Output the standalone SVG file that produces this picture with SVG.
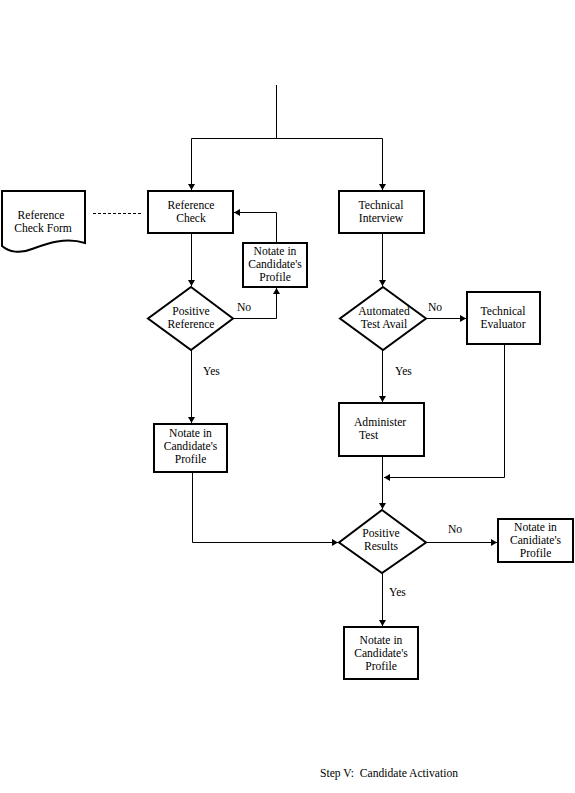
<svg xmlns="http://www.w3.org/2000/svg" width="575" height="793" viewBox="0 0 575 793">
<style>
.box{fill:#fff;stroke:#000;stroke-width:2}
.doc{fill:#fff;stroke:#000;stroke-width:2}
.c{fill:none;stroke:#000;stroke-width:1}
.d{fill:none;stroke:#000;stroke-width:1;stroke-dasharray:3,2}
text{font-family:"Liberation Serif","Times New Roman",serif;font-size:11.6px;fill:#000}
.m{text-anchor:middle}
</style>
<defs>
<marker id="ah" markerUnits="userSpaceOnUse" markerWidth="7" markerHeight="7" refX="6" refY="3.5" orient="auto">
<path d="M0,0 L6,3.5 L0,7 z" fill="#000"/>
</marker>
</defs>
<rect width="575" height="793" fill="#fff"/>
<g id="connectors">
<path class="c" d="M276.5,85 V138.5"/>
<path class="c" d="M191.5,138.5 H382.5"/>
<path class="c" d="M191.5,138.5 V190" marker-end="url(#ah)"/>
<path class="c" d="M382.5,138.5 V190" marker-end="url(#ah)"/>
<path class="d" d="M93,213.5 H142"/>
<path class="c" d="M191.5,233 V286" marker-end="url(#ah)"/>
<path class="c" d="M233,318.5 H276.5 V288" marker-end="url(#ah)"/>
<path class="c" d="M276.5,243 V212.5 H234" marker-end="url(#ah)"/>
<path class="c" d="M191.5,350 V423" marker-end="url(#ah)"/>
<path class="c" d="M192.5,472 V542.5 H338" marker-end="url(#ah)"/>
<path class="c" d="M382.5,233 V286" marker-end="url(#ah)"/>
<path class="c" d="M426,318.5 H466" marker-end="url(#ah)"/>
<path class="c" d="M382.5,350 V402" marker-end="url(#ah)"/>
<path class="c" d="M504.5,344 V477.5 H384" marker-end="url(#ah)"/>
<path class="c" d="M382.5,456 V509" marker-end="url(#ah)"/>
<path class="c" d="M426,542.5 H497" marker-end="url(#ah)"/>
<path class="c" d="M382.5,573 V626" marker-end="url(#ah)"/>
</g>
<g id="labels">
<text x="237" y="311">No</text>
<text x="428" y="311">No</text>
<text x="203" y="375">Yes</text>
<text x="395" y="375">Yes</text>
<text x="448" y="533">No</text>
<text x="389" y="596">Yes</text>
</g>
<g id="ref-check-form">
<path class="doc" d="M2,191 H85 V243 C66,237 48,243 32,249 C20,254 9,252 2,246 Z"/>
<text class="m" x="41" y="219">Reference</text>
<text class="m" x="43" y="232">Check Form</text>
</g>
<g id="reference-check">
<rect class="box" x="148" y="191" width="85" height="42"/>
<text class="m" x="191" y="209">Reference</text>
<text class="m" x="191" y="222">Check</text>
</g>
<g id="notate-upper">
<rect class="box" x="243" y="243" width="64" height="44"/>
<text class="m" x="275" y="255">Notate in</text>
<text class="m" x="275" y="268">Candidate's</text>
<text class="m" x="275" y="281">Profile</text>
</g>
<g id="positive-reference">
<path class="box" d="M191,287 L233,318.5 L191,350 L148,318.5 Z"/>
<text class="m" x="191" y="315">Positive</text>
<text class="m" x="191" y="328">Reference</text>
</g>
<g id="technical-interview">
<rect class="box" x="339" y="191" width="85" height="42"/>
<text class="m" x="381" y="209">Technical</text>
<text class="m" x="381" y="222">Interview</text>
</g>
<g id="automated-test">
<path class="box" d="M383,287 L426,318.5 L383,350 L340,318.5 Z"/>
<text class="m" x="384" y="315">Automated</text>
<text class="m" x="384" y="328">Test Avail</text>
</g>
<g id="technical-evaluator">
<rect class="box" x="467" y="292" width="73" height="52"/>
<text class="m" x="503" y="315">Technical</text>
<text class="m" x="503" y="328">Evaluator</text>
</g>
<g id="notate-left">
<rect class="box" x="154" y="424" width="73" height="48"/>
<text class="m" x="190.5" y="437">Notate in</text>
<text class="m" x="190.5" y="450">Candidate's</text>
<text class="m" x="190.5" y="463">Profile</text>
</g>
<g id="administer-test">
<rect class="box" x="339" y="403" width="85" height="53"/>
<text x="354" y="426">Administer</text>
<text x="359" y="439">Test</text>
</g>
<g id="positive-results">
<path class="box" d="M382,510 L426,542.5 L382,573 L339,542.5 Z"/>
<text class="m" x="381" y="537">Positive</text>
<text class="m" x="381" y="550">Results</text>
</g>
<g id="notate-right">
<rect class="box" x="498" y="519" width="75" height="43"/>
<text class="m" x="535.5" y="531">Notate in</text>
<text class="m" x="535.5" y="544">Canidiate's</text>
<text class="m" x="535.5" y="557">Profile</text>
</g>
<g id="notate-bottom">
<rect class="box" x="344" y="627" width="74" height="52"/>
<text class="m" x="381" y="644">Notate in</text>
<text class="m" x="381" y="657">Candidate's</text>
<text class="m" x="381" y="670">Profile</text>
</g>
<g id="title">
<text x="320" y="777" xml:space="preserve">Step V:  Candidate Activation</text>
</g>
</svg>
